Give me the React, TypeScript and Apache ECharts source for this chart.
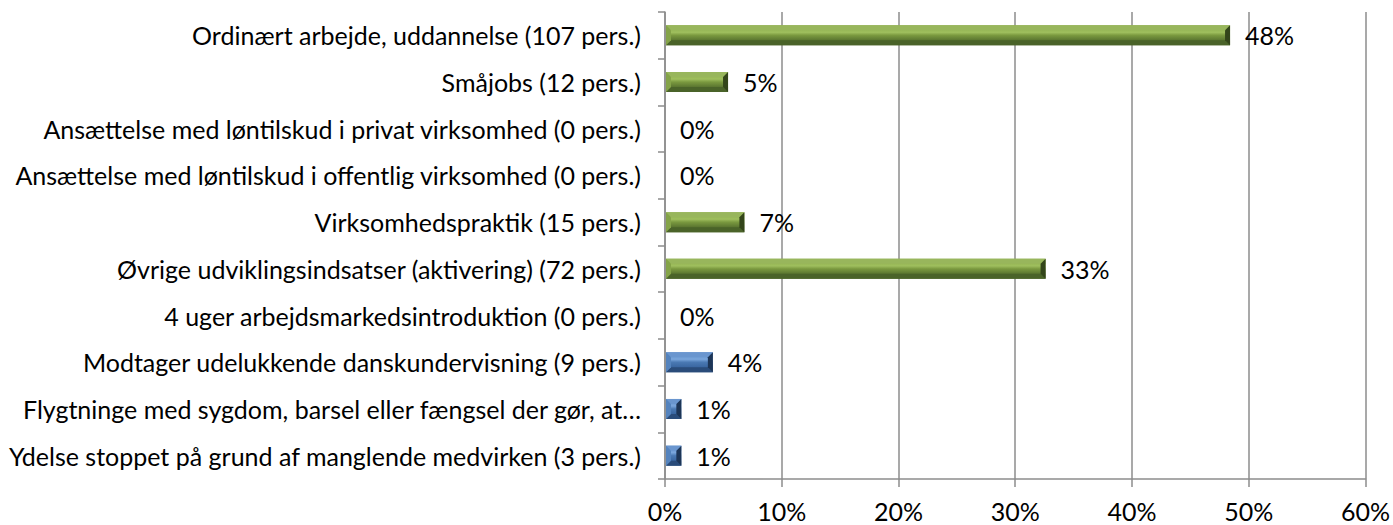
import React, { useEffect, useRef } from "react";
import * as echarts from "echarts";

const categories = [
  "Ordinært arbejde, uddannelse (107 pers.)",
  "Småjobs (12 pers.)",
  "Ansættelse med løntilskud i privat virksomhed (0 pers.)",
  "Ansættelse med løntilskud i offentlig virksomhed (0 pers.)",
  "Virksomhedspraktik (15 pers.)",
  "Øvrige udviklingsindsatser (aktivering) (72 pers.)",
  "4 uger arbejdsmarkedsintroduktion (0 pers.)",
  "Modtager udelukkende danskundervisning (9 pers.)",
  "Flygtninge med sygdom, barsel eller fængsel der gør, at…",
  "Ydelse stoppet på grund af manglende medvirken (3 pers.)",
];
const values = [48.4, 5.4, 0, 0, 6.8, 32.6, 0, 4.1, 1.4, 1.4];
const groups = ["green", "green", "green", "green", "green", "green", "green", "blue", "blue", "blue"];
const xTicks = [0, 10, 20, 30, 40, 50, 60];

const FONT = "Lato, 'Liberation Sans', sans-serif";
const FS = 25;

const palette: Record<string, any> = {
  green: {
    top: "#98b65c",
    bottom: "#4a6329",
    left: "#84a348",
    right: "#33451a",
    face: ["#88a945", "#9fbf5e", "#7a993f", "#5a7530", "#4e6829"],
  },
  blue: {
    top: "#6a96cf",
    bottom: "#2a4c7a",
    left: "#5483bd",
    right: "#1d3556",
    face: ["#5a8ac6", "#7aa6dc", "#4a79b3", "#3a66a0", "#2f5789"],
  },
};

export default function App() {
  const ref = useRef<HTMLDivElement>(null);
  useEffect(() => {
    document.body.style.margin = "0";
    const chart = echarts.init(ref.current!, null, { renderer: "svg" });
    const data = values.map((v, i) => [v, i]);
    chart.setOption({
      animation: false,
      grid: { left: 665, right: 25, top: 12, bottom: 46, containLabel: false },
      xAxis: {
        type: "value",
        min: xTicks[0],
        max: xTicks[xTicks.length - 1],
        interval: 10,
        axisLine: { show: true, lineStyle: { color: "#8c8c8c", width: 1.5 } },
        axisTick: { show: true, length: 8, lineStyle: { color: "#8c8c8c", width: 1.5 } },
        splitLine: { show: true, lineStyle: { color: "#8c8c8c", width: 1.5 } },
        axisLabel: {
          formatter: "{value}%",
          color: "#000",
          fontSize: FS,
          fontFamily: FONT,
          margin: 19,
        },
      },
      yAxis: {
        type: "category",
        data: categories,
        inverse: true,
        axisLine: { show: true, lineStyle: { color: "#8c8c8c", width: 1.5 } },
        axisTick: { show: true, length: 7, lineStyle: { color: "#8c8c8c", width: 1.5 } },
        splitLine: { show: false },
        axisLabel: {
          color: "#000",
          fontSize: FS,
          fontFamily: FONT,
          margin: 24,
        },
      },
      series: [
        {
          type: "custom",
          data,
          encode: { x: 0, y: 1 },
          clip: false,
          renderItem: (params: any, api: any) => {
            const v = api.value(0);
            const idx = api.value(1);
            const s = api.coord([0, idx]);
            const e = api.coord([v, idx]);
            const h = 20;
            const top = s[1] - h / 2;
            const bot = s[1] + h / 2;
            const x0 = s[0] + 1;
            const x1 = e[0];
            const p = palette[groups[idx]];
            const children: any[] = [];
            const w = x1 - x0;
            if (w > 0.5) {
              const b = Math.min(5, w / 2);
              children.push({
                type: "rect",
                shape: { x: x0, y: top, width: w, height: h },
                style: {
                  fill: new echarts.graphic.LinearGradient(0, 0, 0, 1, [
                    { offset: 0, color: p.face[0] },
                    { offset: 0.35, color: p.face[1] },
                    { offset: 0.5, color: p.face[2] },
                    { offset: 0.75, color: p.face[3] },
                    { offset: 1, color: p.face[4] },
                  ]),
                },
              });
              children.push({
                type: "polygon",
                shape: { points: [[x0, top], [x1, top], [x1 - b, top + b], [x0 + b, top + b]] },
                style: { fill: p.top },
              });
              children.push({
                type: "polygon",
                shape: { points: [[x0, bot], [x1, bot], [x1 - b, bot - b], [x0 + b, bot - b]] },
                style: { fill: p.bottom },
              });
              children.push({
                type: "polygon",
                shape: { points: [[x0, top], [x0 + b, top + b], [x0 + b, bot - b], [x0, bot]] },
                style: { fill: p.left },
              });
              children.push({
                type: "polygon",
                shape: { points: [[x1, top], [x1 - b, top + b], [x1 - b, bot - b], [x1, bot]] },
                style: { fill: p.right },
              });
            }
            children.push({
              type: "text",
              x: e[0] + 15,
              y: s[1],
              style: {
                text: Math.round(v) + "%",
                fill: "#000",
                font: FS + "px " + FONT,
                textAlign: "left",
                textVerticalAlign: "middle",
              },
            });
            return { type: "group", children };
          },
        },
      ],
    });
    return () => chart.dispose();
  }, []);
  return (
    <div
      ref={ref}
      style={{ position: "absolute", left: 0, top: 0, width: 1393, height: 525 }}
    />
  );
}
